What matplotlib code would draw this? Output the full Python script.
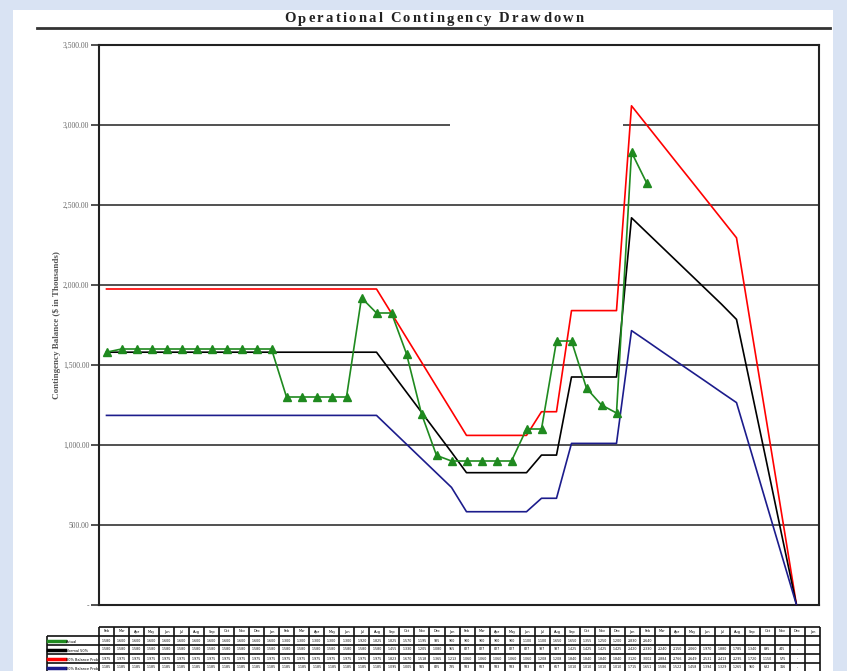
import numpy as np
import matplotlib.pyplot as plt
from matplotlib.patches import Rectangle
from matplotlib.lines import Line2D

W, H = 847, 671

periods = ['Feb', 'Mar', 'Apr', 'May', 'Jun', 'Jul', 'Aug', 'Sep', 'Oct', 'Nov', 'Dec', 'Jan',
           'Feb', 'Mar', 'Apr', 'May', 'Jun', 'Jul', 'Aug', 'Sep', 'Oct', 'Nov', 'Dec', 'Jan',
           'Feb', 'Mar', 'Apr', 'May', 'Jun', 'Jul', 'Aug', 'Sep', 'Oct', 'Nov', 'Dec', 'Jan',
           'Feb', 'Mar', 'Apr', 'May', 'Jun', 'Jul', 'Aug', 'Sep', 'Oct', 'Nov', 'Dec', 'Jan']

actual = [1580, 1600, 1600, 1600, 1600, 1600, 1600, 1600, 1600, 1600, 1600, 1600,
          1300, 1300, 1300, 1300, 1300, 1920, 1825, 1825, 1570, 1195, 935, 900,
          900, 900, 900, 900, 1100, 1100, 1650, 1650, 1355, 1250, 1200, 2830, 2640]

normal = [1580, 1580, 1580, 1580, 1580, 1580, 1580, 1580, 1580, 1580, 1580, 1580,
          1580, 1580, 1580, 1580, 1580, 1580, 1580, 1455, 1330, 1205, 1080, 955,
          827, 827, 827, 827, 827, 937, 937, 1425, 1425, 1425, 1425, 2420,
          2330, 2240, 2150, 2060, 1970, 1880, 1785, 1340, 895, 445, 0]

high = [1975, 1975, 1975, 1975, 1975, 1975, 1975, 1975, 1975, 1975, 1975, 1975,
        1975, 1975, 1975, 1975, 1975, 1975, 1975, 1823, 1670, 1518, 1365, 1213,
        1060, 1060, 1060, 1060, 1060, 1208, 1208, 1840, 1840, 1840, 1840, 3120,
        3002, 2884, 2766, 2649, 2531, 2413, 2295, 1720, 1150, 575, 0]

low = [1185, 1185, 1185, 1185, 1185, 1185, 1185, 1185, 1185, 1185, 1185, 1185,
       1185, 1185, 1185, 1185, 1185, 1185, 1185, 1095, 1005, 915, 825, 735,
       583, 583, 583, 583, 583, 667, 667, 1010, 1010, 1010, 1010, 1715,
       1651, 1586, 1522, 1458, 1394, 1329, 1265, 950, 632, 316, 0]

names = ['Actual', 'Normal 50%', '80% Balance Prob', '20% Balance Prob']
colors = ['#1f8a1f', '#000000', '#ff0000', '#1c1c8c']
series = [actual, normal, high, low]

title = 'Operational Contingency Drawdown'
serif = ['Liberation Serif', 'DejaVu Serif']

fig = plt.figure(figsize=(W / 100, H / 100), dpi=100)
fig.patch.set_facecolor('#d9e3f3')
fig.add_artist(Rectangle((13 / W, 0), (833 - 13) / W, 1 - 10 / H,
                         transform=fig.transFigure, facecolor='white', edgecolor='none', zorder=0))

# letter-spaced title, placed glyph by glyph
renderer = fig.canvas.get_renderer()
glyphs = []
for ch in title:
    t = fig.text(0, 1 - 19 / H, ch, ha='left', va='center', fontsize=10.5,
                 fontweight='bold', family=serif, color='#222')
    w = t.get_window_extent(renderer).width if ch != ' ' else 3
    glyphs.append((t, w))
total = sum(w for _, w in glyphs)
track = (300 - total) / (len(glyphs) - 1)
xpos = 284
for t, w in glyphs:
    t.set_x(xpos / W)
    xpos += w + track
fig.add_artist(Line2D([37 / W, 830 / W], [1 - 28 / H, 1 - 28 / H], color='#333', lw=2))

ax = fig.add_axes([99 / W, 1 - 605 / H, 720 / W, 560 / H])
ax.set_facecolor('white')
ax.set_xlim(-0.5, 47.5)
ax.set_ylim(0, 3500)
yt = np.arange(0, 3501, 500)
ax.set_yticks(yt)
ax.set_yticklabels(['-' if v == 0 else f'{v:,.2f}' for v in yt], family=serif)
ax.set_xticks([])
ax.tick_params(axis='y', direction='out', length=6, width=1.2, color='#333',
               labelsize=5.5, labelcolor='#666', pad=1)
ax.yaxis.grid(True, color='#333', lw=1.2)
ax.set_axisbelow(True)
for s in ax.spines.values():
    s.set_linewidth(1.5)
    s.set_color('#222')
ax.set_ylabel('Contingency Balance ($ in Thousands)', family=serif, fontsize=6.5,
              fontweight='bold', color='#555')
ax.yaxis.set_label_coords((61 - 99) / 720, 0.5)

# blank patch over part of the 3,000 gridline, as in the source image
ax.add_patch(Rectangle((22.9, 2630), 11.5, 420, facecolor='white', edgecolor='none', zorder=1.5))

for vals, c in [(high, colors[2]), (normal, colors[1]), (low, colors[3])]:
    ax.plot(range(len(vals)), vals, color=c, lw=1.2, zorder=3)
ax.plot(range(len(actual)), actual, color=colors[0], lw=1.2, marker='^', ms=6, zorder=4)

# table below the chart
tax = fig.add_axes([47 / W, 0, (820 - 47) / W, 44 / H])
tax.axis('off')
x0 = -0.5 - 52 / 15
tax.set_xlim(x0, 47.5)
tax.set_ylim(44 / 9, 0)
n = len(periods)
tax.hlines(0, -0.5, n - 0.5, color='#111', lw=1.2, clip_on=False)
tax.hlines(np.arange(1, 6), x0, n - 0.5, color='#111', lw=1.2, clip_on=False)
tax.vlines(np.arange(n + 1) - 0.5, 0, 5, color='#111', lw=1.2, clip_on=False)
tax.vlines(x0, 1, 5, color='#111', lw=1.2, clip_on=False)
for i, p in enumerate(periods):
    tax.text(i, 0.5, p, ha='center', va='center', fontsize=2.5, clip_on=False)
for r, (name, c, vals) in enumerate(zip(names, colors, series)):
    y = r + 1.5
    tax.plot([x0 + 0.05, x0 + 1.2], [y, y], color=c, lw=2.5, clip_on=False)
    tax.text(x0 + 1.25, y + 0.15, name, ha='left', va='center', fontsize=2.5, clip_on=False)
    for i, v in enumerate(vals):
        tax.text(i, y, '-' if v == 0 else f'{v:,.0f}', ha='center', va='center',
                 fontsize=2.3, clip_on=False)

fig.savefig('out.png', dpi=100, facecolor=fig.get_facecolor())
